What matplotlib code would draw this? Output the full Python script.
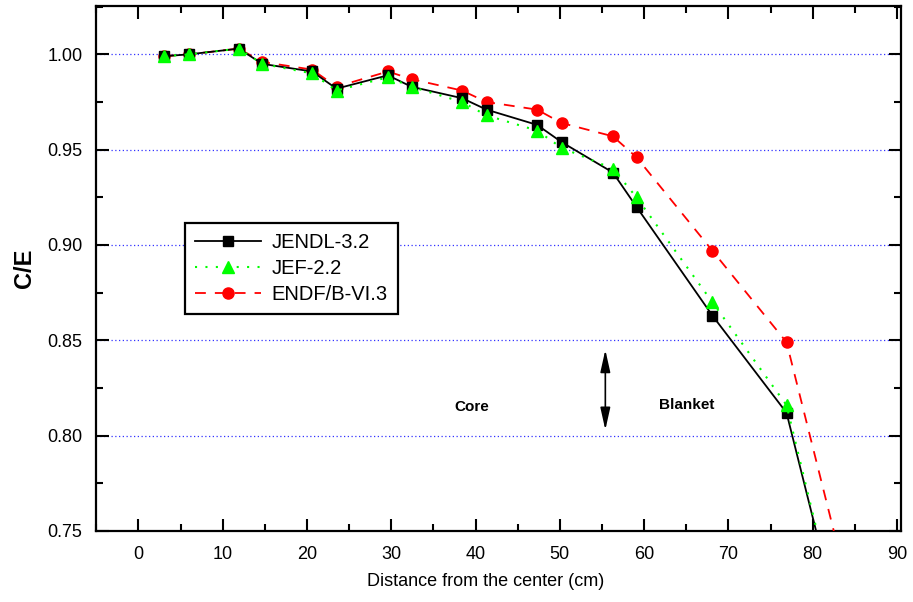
import matplotlib.pyplot as plt
from matplotlib.ticker import MultipleLocator

plt.rcParams['font.family'] = ['Liberation Sans', 'DejaVu Sans']

# distance from the core center (cm)
distance = [3.0, 6.0, 11.9, 14.7, 20.6, 23.5, 29.6, 32.4, 38.4, 41.3, 47.3, 50.2, 56.3, 59.1, 68.1, 76.9, 85.0]

jendl = [0.999, 1.000, 1.003, 0.995, 0.991, 0.982, 0.989, 0.983, 0.977, 0.971, 0.963, 0.954, 0.938, 0.920, 0.863, 0.812, 0.669]
jef = [0.999, 1.000, 1.003, 0.995, 0.990, 0.981, 0.988, 0.983, 0.975, 0.968, 0.960, 0.951, 0.940, 0.925, 0.870, 0.816, 0.668]
endf = [0.999, 1.000, 1.003, 0.996, 0.992, 0.983, 0.991, 0.987, 0.981, 0.975, 0.971, 0.964, 0.957, 0.946, 0.897, 0.849, 0.706]

fig = plt.figure(figsize=(9.13, 6.02), dpi=100)
ax = fig.add_axes([0.1055, 0.118, 0.8815, 0.8725])

ax.plot(distance, endf, color='red', linestyle=(0, (6, 5)), linewidth=1.3,
        marker='o', markersize=8, label='ENDF/B-VI.3', zorder=3)
ax.plot(distance, jendl, color='black', linestyle='-', linewidth=1.3,
        marker='s', markersize=7.5, label='JENDL-3.2', zorder=4)
ax.plot(distance, jef, color='#00ff00', linestyle=(0, (1, 4)), linewidth=1.5,
        marker='^', markersize=9, label='JEF-2.2', zorder=5)

ax.set_xlim(-5, 90.5)
ax.set_ylim(0.75, 1.0255)
ax.xaxis.set_major_locator(MultipleLocator(10))
ax.xaxis.set_minor_locator(MultipleLocator(5))
ax.yaxis.set_major_locator(MultipleLocator(0.05))
ax.yaxis.set_minor_locator(MultipleLocator(0.025))
ax.set_yticks([0.75, 0.80, 0.85, 0.90, 0.95, 1.00])
ax.set_yticklabels(['0.75', '0.80', '0.85', '0.90', '0.95', '1.00'])

ax.tick_params(which='both', direction='in', top=True, right=True, labelsize=13, width=1.5)
ax.tick_params(which='major', length=9)
ax.tick_params(axis='x', which='major', pad=11)
ax.tick_params(axis='y', which='major', pad=10)
ax.tick_params(which='minor', length=5)
for s in ax.spines.values():
    s.set_linewidth(1.6)

for yv in [0.80, 0.85, 0.90, 0.95, 1.00]:
    ax.axhline(yv, color='#3333ff', linestyle=(0, (1, 2)), linewidth=0.9, zorder=1)

ax.set_xlabel('Distance from the center (cm)', fontsize=13, labelpad=7, x=0.484)
ax.set_ylabel('C/E', fontsize=17, fontweight='bold')
ax.yaxis.set_label_coords(-0.075, 0.5)

h, l = ax.get_legend_handles_labels()
order = [1, 2, 0]
leg = ax.legend([h[i] for i in order], [l[i] for i in order],
                loc='upper left', bbox_to_anchor=(0.11, 0.586), borderaxespad=0,
                fontsize=14.5, fancybox=False, framealpha=1, edgecolor='black',
                handlelength=3.3, handletextpad=0.5, borderpad=0.5, labelspacing=0.35)
leg.get_frame().set_linewidth(1.6)

ax.text(39.6, 0.815, 'Core', fontsize=11, fontweight='bold', ha='center', va='center')
ax.text(65.1, 0.816, 'Blanket', fontsize=11, fontweight='bold', ha='center', va='center')
ax.annotate('', xy=(55.4, 0.845), xytext=(55.4, 0.803),
            arrowprops=dict(arrowstyle='<|-|>,head_length=0.9,head_width=0.2',
                            color='black', lw=1.2, mutation_scale=15,
                            shrinkA=0, shrinkB=0))

fig.savefig('out.png', dpi=100)
